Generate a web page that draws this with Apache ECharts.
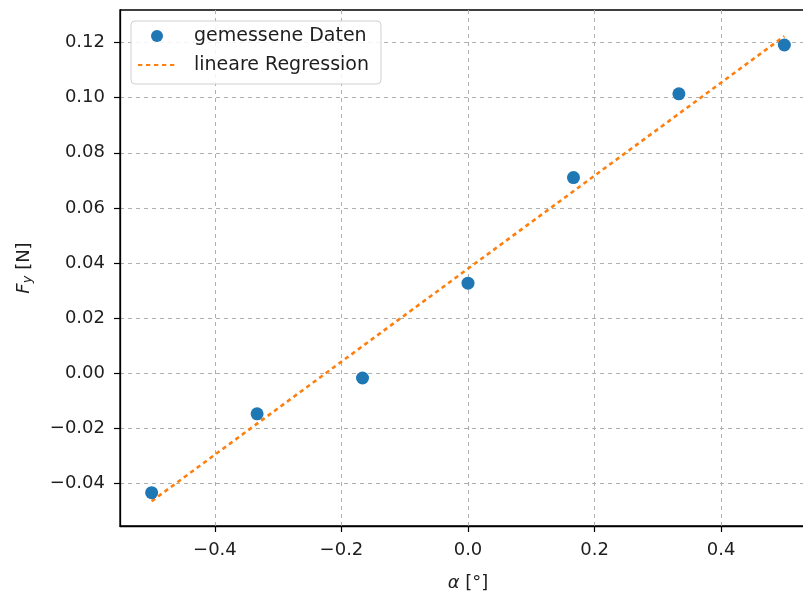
<!DOCTYPE html>
<html><head><meta charset="utf-8">
<script src="https://cdn.jsdelivr.net/npm/echarts@6/dist/echarts.min.js"></script>
<style>html,body{margin:0;padding:0;background:#fff;overflow:hidden}#c{width:803px;height:591px}</style>
</head><body><div id="c"></div>
<script>
const alphaValues = [-0.5, -0.3333, -0.1667, 0.0, 0.1667, 0.3333, 0.5];
const forceValues = [-0.0433, -0.0147, -0.0017, 0.0327, 0.0710, 0.1014, 0.1191];
const regressionX = [-0.5, 0.5];
const regressionY = [-0.0464, 0.1223];
const xTicks = [-0.4, -0.2, 0.0, 0.2, 0.4];
const yTicks = [-0.04, -0.02, 0.00, 0.02, 0.04, 0.06, 0.08, 0.10, 0.12];

const fmt = (v, d) => v.toFixed(d).replace('-', '\u2212');
const FONT = 'DejaVu Sans';
const TXT = '#1e1e1e';
const chart = echarts.init(document.getElementById('c'));
chart.setOption({
  animation: false,
  backgroundColor: '#fff',
  textStyle: { fontFamily: FONT },
  grid: { left: 120, top: 10, width: 696, bottom: 65, show: true, borderColor: '#000', borderWidth: 1.3, containLabel: false, outerBoundsMode: 'none' },
  legend: {
    orient: 'vertical', left: 131, top: 21,
    itemWidth: 38, itemHeight: 12, itemGap: 7,
    padding: [4, 12, 8, 6],
    backgroundColor: 'rgba(255,255,255,0.85)',
    borderColor: '#d0d0d0', borderWidth: 1, borderRadius: 4,
    textStyle: { fontSize: 19, color: TXT, fontFamily: FONT, lineHeight: 22, padding: [0, 0, 0, 13] },
    data: [
      { name: 'gemessene Daten', icon: 'circle' },
      { name: 'lineare Regression', itemStyle: { opacity: 0, color: 'rgba(0,0,0,0)', borderWidth: 0 } }
    ]
  },
  xAxis: {
    type: 'value', min: -0.55, max: 0.55,
    name: '{i|α} [°]', nameLocation: 'middle', nameGap: 48,
    nameTextStyle: { fontSize: 18, color: TXT, verticalAlign: 'top', rich: { i: { fontStyle: 'italic', fontSize: 18, color: TXT, fontFamily: FONT } } },
    axisLine: { show: true, onZero: false, lineStyle: { color: '#000', width: 1.3 } },
    axisTick: { show: true, inside: false, length: 6, lineStyle: { color: '#000', width: 1.2 }, customValues: xTicks },
    axisLabel: { fontSize: 18, color: TXT, margin: 15, customValues: xTicks, formatter: v => fmt(v, 1) },
    splitLine: { show: true, lineStyle: { color: '#b0b0b0', type: [4, 4], width: 1 } }
  },
  yAxis: {
    type: 'value', min: -0.0554, max: 0.1318,
    name: '{i|F}{s|y} [N]', nameLocation: 'middle', nameGap: 86, nameRotate: 90,
    nameTextStyle: { fontSize: 18, color: TXT, rich: {
      i: { fontStyle: 'italic', fontSize: 18, color: TXT, fontFamily: FONT },
      s: { fontStyle: 'italic', fontSize: 13, color: TXT, fontFamily: FONT, padding: [7, 0, 0, 0] } } },
    axisLine: { show: true, onZero: false, lineStyle: { color: '#000', width: 1.3 } },
    axisTick: { show: true, inside: false, length: 6, lineStyle: { color: '#000', width: 1.2 }, customValues: yTicks },
    axisLabel: { fontSize: 18, color: TXT, margin: 15, customValues: yTicks, formatter: v => fmt(v, 2) },
    splitLine: { show: true, lineStyle: { color: '#b0b0b0', type: [4, 4], width: 1 } }
  },
  series: [
    {
      name: 'gemessene Daten', type: 'scatter', symbol: 'circle', symbolSize: 13,
      itemStyle: { color: '#1f77b4', opacity: 1 },
      data: alphaValues.map((a, i) => [a, forceValues[i]]), z: 3
    },
    {
      name: 'lineare Regression', type: 'line', symbol: 'none', showSymbol: false,
      lineStyle: { color: '#ff7f0e', width: 2.6, type: [4.3, 3.7], cap: 'butt' },
      itemStyle: { color: '#ff7f0e' },
      data: regressionX.map((x, i) => [x, regressionY[i]]), z: 2
    }
  ]
});
</script></body></html>
